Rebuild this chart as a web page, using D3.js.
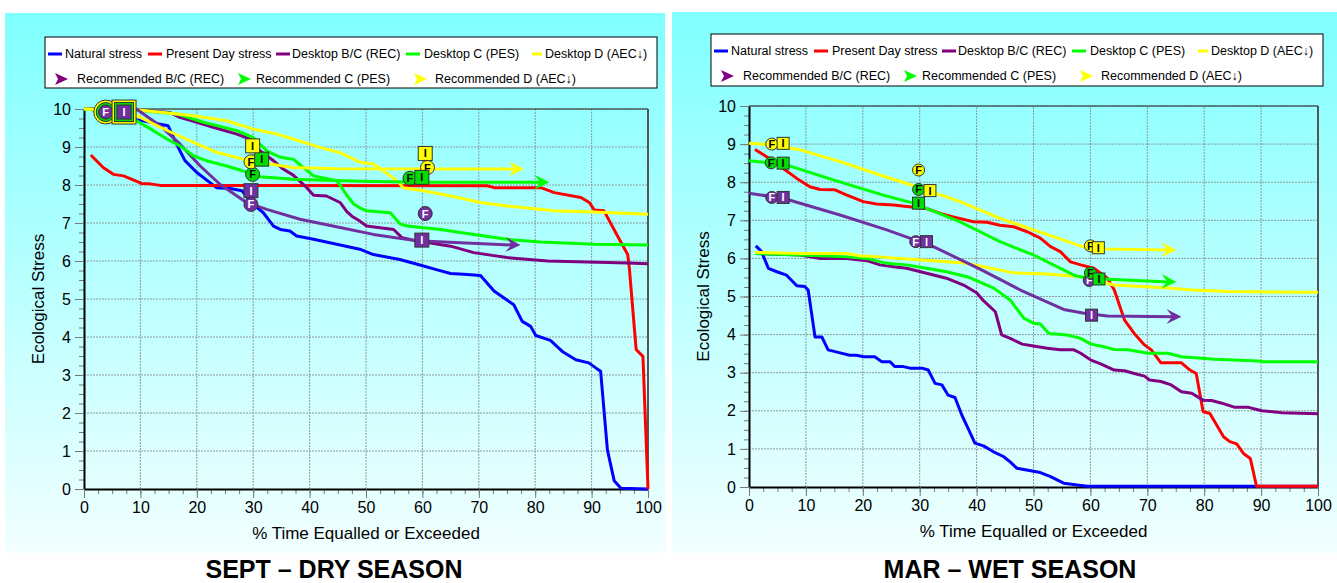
<!DOCTYPE html>
<html lang="en">
<head>
<meta charset="utf-8">
<title>Ecological stress duration curves</title>
<script src="https://d3js.org/d3.v7.min.js"></script>
<style>
  body { margin: 0; background: #fff; }
  svg { display: block; font-family: "Liberation Sans", Arial, sans-serif; }
</style>
</head>
<body>
<svg id="chart" width="1337" height="583"></svg>
<script>
// ---- labels ----
var deskNames = ["Natural stress", "Present Day stress", "Desktop B/C (REC)", "Desktop C (PES)", "Desktop D (AEC\u2193)"];
var recNames = ["Recommended B/C (REC)", "Recommended C (PES)", "Recommended D (AEC\u2193)"];
var xTicks = [0, 10, 20, 30, 40, 50, 60, 70, 80, 90, 100];
var yTicks = [0, 1, 2, 3, 4, 5, 6, 7, 8, 9, 10];
var xTitle = "% Time Equalled or Exceeded";
var yTitle = "Ecological Stress";

// ---- SEPT (dry season) ----
var sepNatural = [[1,10],[8,9.78],[9.3,9.72],[14.9,9.56],[16.7,8.99],[17.9,8.64],[20,8.33],[23.5,7.93],[25.9,7.91],[28,7.85],[30,7.49],[31.8,7.27],[33.6,6.92],[34.8,6.83],[36.5,6.79],[37.7,6.66],[40.7,6.57],[44.8,6.44],[48.9,6.31],[51.3,6.17],[56,6.04],[60.2,5.87],[62.3,5.78],[65,5.67],[67.3,5.65],[70.3,5.62],[72.7,5.21],[76.2,4.85],[77.7,4.41],[79.2,4.28],[80.1,4.04],[82.7,3.91],[84.8,3.62],[87.2,3.4],[89.5,3.32],[90.8,3.18],[91.6,3.1],[92.8,1.03],[94,0.22],[95.2,0.02],[100,0]];
var sepPresent = [[1.2,8.79],[3.4,8.46],[5.2,8.28],[7,8.24],[8.5,8.15],[10.2,8.04],[11.7,8.03],[13.5,7.99],[71.5,7.98],[72.7,7.93],[81,7.93],[83.4,7.8],[88.1,7.67],[89.6,7.54],[90.5,7.34],[92.2,7.32],[94.6,6.66],[96.4,6.17],[96.7,5.8],[97.9,3.67],[99.1,3.49],[100,0]];
var sepDeskBC = [[0,10],[9.3,9.98],[15.2,9.91],[17,9.78],[20,9.65],[22.9,9.52],[27.1,9.34],[29.4,9.21],[31.2,8.9],[33.6,8.64],[35.3,8.42],[37.1,8.26],[39.5,7.93],[40.7,7.73],[43,7.71],[45.4,7.54],[46.6,7.3],[47.5,7.18],[48.9,7.05],[50.1,6.92],[54.9,6.83],[56.4,6.61],[59,6.53],[65,6.39],[69.1,6.22],[75,6.09],[82.2,6],[96.4,5.95],[100,5.93]];
var sepDeskC = [[0,10],[9.9,9.96],[16.4,9.87],[21.2,9.65],[27.1,9.43],[30,9.25],[32.4,8.9],[34.8,8.73],[37.1,8.68],[40.7,8.24],[44.8,8.11],[45.4,8],[46.5,7.75],[47.8,7.5],[48.9,7.4],[50.1,7.32],[54.3,7.27],[56.1,6.97],[57.3,6.92],[63.2,6.83],[69.1,6.7],[75,6.57],[81,6.5],[90.5,6.44],[100,6.42]];
var sepDeskD = [[0,10],[9.3,9.98],[19.4,9.82],[25.3,9.69],[30,9.47],[34.2,9.34],[37.1,9.21],[41.8,8.99],[45.4,8.85],[48.9,8.6],[51.3,8.55],[54.3,8.24],[55.8,8.07],[56.6,7.93],[60.2,7.85],[65,7.71],[70.3,7.54],[75,7.45],[83.3,7.32],[90.5,7.29],[100,7.23]];
var sepRecBC = [[0,10],[9.3,10],[13.5,9.56],[17,9.08],[20.6,8.5],[24.1,8.02],[28.8,7.54],[32.4,7.36],[38.3,7.1],[45.4,6.88],[51.3,6.7],[59,6.53],[77.4,6.42]];
var sepRecC = [[0,10],[5,9.95],[9.3,9.69],[12.3,9.43],[14.7,9.21],[17,9.03],[19.4,8.77],[21.7,8.64],[25.3,8.5],[28.2,8.37],[31.2,8.22],[37.1,8.15],[48.9,8.1],[60,8.07],[82.5,8.07]];
var sepRecD = [[0,10],[5,9.97],[9,9.85],[13.5,9.52],[19.4,9.12],[23.5,8.86],[28.2,8.68],[33,8.55],[37,8.46],[45,8.43],[78,8.42]];
var sepMarkers = [
  {s:"D", t:"F", x:3.85, y:9.92}, {s:"C", t:"F", x:3.85, y:9.92}, {s:"BC", t:"F", x:3.85, y:9.92},
  {s:"D", t:"I", x:7.1, y:9.92}, {s:"C", t:"I", x:7.1, y:9.92}, {s:"BC", t:"I", x:7.1, y:9.92},
  {s:"BC", t:"F", x:29.6, y:7.49}, {s:"BC", t:"I", x:29.6, y:7.85},
  {s:"C", t:"F", x:29.9, y:8.28}, {s:"D", t:"F", x:29.6, y:8.61},
  {s:"C", t:"I", x:31.5, y:8.68}, {s:"D", t:"I", x:29.9, y:9.03},
  {s:"BC", t:"F", x:60.5, y:7.25}, {s:"BC", t:"I", x:59.9, y:6.55},
  {s:"C", t:"F", x:57.8, y:8.18}, {s:"D", t:"F", x:60.9, y:8.46},
  {s:"C", t:"I", x:59.9, y:8.2}, {s:"D", t:"I", x:60.5, y:8.83}
];

// ---- MAR (wet season) ----
var marNatural = [[1.2,6.33],[2.2,6.18],[3.4,5.74],[4.9,5.65],[6.6,5.56],[8.4,5.28],[9.8,5.26],[10.4,5.17],[11.6,3.94],[12.8,3.94],[13.9,3.6],[16,3.52],[17.7,3.46],[18.9,3.46],[20.1,3.42],[22.1,3.42],[23.3,3.29],[24.8,3.29],[25.6,3.16],[27.1,3.16],[28.3,3.12],[30.4,3.12],[31.5,3.07],[32.7,2.72],[33.9,2.68],[35,2.41],[36.2,2.35],[37.4,1.89],[38.5,1.54],[39.7,1.15],[41.2,1.08],[42.9,0.93],[44.7,0.8],[45.9,0.66],[47.1,0.49],[51.2,0.38],[53,0.27],[55.3,0.1],[57.7,0.05],[59.5,0.02],[100,0.02]];
var marPresent = [[1.05,8.86],[3.1,8.67],[6,8.36],[8.4,8.1],[10.7,7.88],[12.5,7.81],[15.1,7.8],[17.2,7.66],[20.1,7.49],[22.4,7.43],[25.4,7.4],[27.7,7.36],[31.2,7.31],[33.6,7.18],[35.9,7.09],[39.4,6.96],[41.8,6.95],[44.1,6.87],[46.5,6.83],[48.9,6.7],[51.2,6.53],[53,6.31],[54.7,6.18],[56.5,5.91],[58.3,5.83],[60.6,5.74],[63,5.48],[64.2,5.17],[66,4.38],[67.7,4.03],[69.5,3.73],[70.7,3.6],[72.4,3.26],[76,3.26],[77.5,3.07],[78.6,2.98],[79.8,1.98],[81,1.93],[83.4,1.32],[84.5,1.19],[85.7,1.13],[86.9,0.88],[88.1,0.75],[89.2,0.02],[100,0.02]];
var marDeskBC = [[1.05,6.13],[9,6.09],[12.5,6],[17.2,6],[20.7,5.94],[23,5.83],[25.4,5.78],[27.7,5.74],[31.2,5.61],[34.7,5.48],[37.7,5.3],[40,5.1],[41.2,4.89],[43.3,4.6],[44.4,3.99],[45.9,3.9],[48,3.75],[50,3.7],[52.4,3.64],[54.7,3.6],[57.1,3.6],[58.3,3.51],[60.1,3.33],[61.8,3.23],[64.2,3.07],[66,3.05],[67.7,2.98],[69.5,2.91],[70.4,2.81],[72.4,2.77],[74.2,2.68],[76,2.5],[77.8,2.46],[79.8,2.28],[81.3,2.27],[83.1,2.2],[85.4,2.09],[87.8,2.09],[90.1,2],[93.7,1.95],[100,1.92]];
var marDeskC = [[1.05,6.13],[9,6.09],[17.2,6.04],[20.7,6],[24.2,5.87],[27.7,5.83],[31.2,5.74],[34.7,5.65],[38.3,5.52],[40.6,5.38],[43,5.22],[45.9,4.91],[48.3,4.43],[50,4.3],[51.2,4.28],[52.7,4.03],[55.9,3.99],[58.3,3.9],[60.1,3.75],[62.4,3.68],[64.2,3.61],[66.6,3.6],[70.1,3.51],[73.6,3.51],[76,3.42],[81.9,3.35],[89.5,3.31],[90.4,3.29],[100,3.29]];
var marDeskD = [[1.05,6.16],[9,6.13],[17.2,6.13],[19.5,6.07],[23,6.04],[26.5,6],[32.4,5.94],[38.3,5.87],[40.6,5.8],[46.5,5.62],[52.4,5.59],[58.3,5.52],[64.2,5.3],[73.6,5.22],[77.8,5.17],[84.3,5.13],[100,5.11]];
var marRecBC = [[0,7.71],[6,7.58],[16,7.14],[24.2,6.75],[32.4,6.31],[40.6,5.72],[44.1,5.45],[47.7,5.17],[55.3,4.66],[58.9,4.56],[63,4.49],[76,4.47]];
var marRecC = [[0,8.56],[6,8.48],[14.8,8.06],[23.6,7.66],[28.9,7.45],[37.1,6.96],[40.6,6.7],[44.1,6.44],[50,6.09],[57.1,5.56],[59.5,5.48],[75.1,5.38]];
var marRecD = [[0,9.02],[3.1,8.99],[9,8.85],[16,8.54],[23,8.19],[29.5,7.88],[37.1,7.49],[44.1,7.05],[50,6.75],[55.3,6.48],[58.6,6.31],[61,6.25],[75.1,6.22]];
var marMarkers = [
  {s:"BC", t:"F", x:4, y:7.6}, {s:"C", t:"F", x:3.9, y:8.51}, {s:"D", t:"F", x:4, y:9.0},
  {s:"BC", t:"I", x:6, y:7.6}, {s:"C", t:"I", x:6, y:8.5}, {s:"D", t:"I", x:6, y:9.02},
  {s:"BC", t:"F", x:29.3, y:6.44}, {s:"C", t:"F", x:29.8, y:7.81}, {s:"D", t:"F", x:29.8, y:8.32},
  {s:"BC", t:"I", x:31.2, y:6.44}, {s:"C", t:"I", x:29.8, y:7.45}, {s:"D", t:"I", x:31.8, y:7.78},
  {s:"BC", t:"F", x:59.8, y:5.42}, {s:"C", t:"F", x:60, y:5.62}, {s:"D", t:"F", x:60, y:6.33},
  {s:"BC", t:"I", x:60.2, y:4.51}, {s:"C", t:"I", x:61.5, y:5.46}, {s:"D", t:"I", x:61.4, y:6.28}
];

// ---- styles ----
var deskColors = ["#0000ff", "#ff0000", "#800080", "#00ff00", "#ffff00"];
var recColors = ["#7030a0", "#00ff00", "#ffff00"];
var markerFill = { BC: "#7030a0", C: "#00dd00", D: "#ffff00" };
var markerText = { BC: "#ffffff", C: "#000000", D: "#000000" };

var svg = d3.select("#chart");

var defs = svg.append("defs");
var grad = defs.append("linearGradient").attr("id", "bg").attr("x1", 0).attr("y1", 0).attr("x2", 0).attr("y2", 1);
grad.append("stop").attr("offset", "0%").attr("stop-color", "#80ffff");
grad.append("stop").attr("offset", "100%").attr("stop-color", "#f2ffff");

function arrowHead(g, x0, y0, x1, y1, color, len) {
  var a = Math.atan2(y1 - y0, x1 - x0);
  var w = len * 0.5;
  var p = [
    [x1, y1],
    [x1 - len * Math.cos(a) + w * Math.sin(a), y1 - len * Math.sin(a) - w * Math.cos(a)],
    [x1 - len * 0.6 * Math.cos(a), y1 - len * 0.6 * Math.sin(a)],
    [x1 - len * Math.cos(a) - w * Math.sin(a), y1 - len * Math.sin(a) + w * Math.cos(a)]
  ];
  g.append("path").attr("d", "M" + p.join("L") + "Z").attr("fill", color);
}

function drawPanel(cfg) {
  var g = svg.append("g");

  g.append("rect")
    .attr("x", cfg.bg[0]).attr("y", cfg.bg[1])
    .attr("width", cfg.bg[2]).attr("height", cfg.bg[3])
    .attr("fill", "url(#bg)");

  var x = d3.scaleLinear().domain([0, 100]).range([cfg.px0, cfg.px1]);
  var y = d3.scaleLinear().domain([0, 10]).range([cfg.py0, cfg.py1]);

  // grid
  g.append("g").selectAll("line").data(xTicks.slice(1)).join("line")
    .attr("x1", function(d) { return x(d); }).attr("x2", function(d) { return x(d); })
    .attr("y1", y(0)).attr("y2", y(10))
    .attr("stroke", "#8c9c9c").attr("stroke-width", 1).attr("stroke-dasharray", "2,1");
  g.append("g").selectAll("line").data(yTicks.slice(1)).join("line")
    .attr("y1", function(d) { return y(d); }).attr("y2", function(d) { return y(d); })
    .attr("x1", x(0)).attr("x2", x(100))
    .attr("stroke", "#8c9c9c").attr("stroke-width", 1).attr("stroke-dasharray", "2,1");

  // frame
  g.append("line").attr("x1", x(0)).attr("x2", x(100)).attr("y1", y(10)).attr("y2", y(10))
    .attr("stroke", "#222").attr("stroke-width", 1);
  g.append("line").attr("x1", x(100)).attr("x2", x(100)).attr("y1", y(10)).attr("y2", y(0))
    .attr("stroke", "#555").attr("stroke-width", 2);

  // minor ticks
  var yMinor = d3.range(0, 40.5, 1).map(function(d) { return d / 4; });
  var xMinor = d3.range(0, 40.5, 1).map(function(d) { return d * 2.5; });
  g.append("g").attr("transform", "translate(" + x(0) + ",0)")
    .call(d3.axisLeft(y).tickValues(yMinor).tickSize(5).tickSizeOuter(0).tickFormat(""))
    .call(function(a) { a.select(".domain").remove(); a.selectAll("line").attr("stroke", "#777"); });
  g.append("g").attr("transform", "translate(0," + y(0) + ")")
    .call(d3.axisBottom(x).tickValues(xMinor).tickSize(5).tickSizeOuter(0).tickFormat(""))
    .call(function(a) { a.select(".domain").remove(); a.selectAll("line").attr("stroke", "#777"); });

  // major axes
  var ya = g.append("g").attr("transform", "translate(" + x(0) + ",0)")
    .call(d3.axisLeft(y).tickValues(yTicks).tickSize(9).tickSizeOuter(0).tickPadding(4));
  var xa = g.append("g").attr("transform", "translate(0," + y(0) + ")")
    .call(d3.axisBottom(x).tickValues(xTicks).tickSize(9).tickSizeOuter(0).tickPadding(4));
  [ya, xa].forEach(function(a) {
    a.select(".domain").attr("stroke", "#000").attr("stroke-width", 2);
    a.selectAll(".tick line").attr("stroke", "#777");
    a.selectAll("text").attr("font-size", 16).attr("fill", "#000")
      .attr("font-family", "Liberation Sans, Arial, sans-serif");
  });

  // series
  var line = d3.line().x(function(d) { return x(d[0]); }).y(function(d) { return y(d[1]); });
  cfg.desk.forEach(function(s, i) {
    g.append("path").datum(s).attr("d", line)
      .attr("fill", "none").attr("stroke", deskColors[i]).attr("stroke-width", 3)
      .attr("stroke-linejoin", "round");
  });
  cfg.rec.forEach(function(s, i) {
    var n = s.length;
    var x1 = x(s[n - 1][0]), y1 = y(s[n - 1][1]);
    g.append("path").datum(s.slice(0, n - 1).concat([[x.invert(x1 - 8), s[n - 1][1]]])).attr("d", line)
      .attr("fill", "none").attr("stroke", recColors[i]).attr("stroke-width", 3)
      .attr("stroke-linejoin", "round");
    arrowHead(g, x(s[n - 2][0]), y(s[n - 2][1]), x1, y1, recColors[i], 15);
  });

  // F / I markers: circles first, stacked duplicates drawn as rings
  var stacks = d3.group(cfg.markers, function(m) { return m.t + m.x + "," + m.y; });
  var list = [];
  cfg.markers.forEach(function(m, i) {
    var arr = stacks.get(m.t + m.x + "," + m.y);
    list.push({ m: m, i: i, grow: (arr.length - 1 - arr.indexOf(m)) * 2.5 });
  });
  list.sort(function(a, b) {
    if (a.m.t !== b.m.t) return a.m.t === "F" ? -1 : 1;
    return a.i - b.i;
  });
  var r = cfg.markerR;
  list.forEach(function(o) {
    var m = o.m, cx = x(m.x), cy = y(m.y), rr = r + o.grow;
    if (m.t === "F") {
      g.append("circle").attr("cx", cx).attr("cy", cy).attr("r", rr)
        .attr("fill", markerFill[m.s]).attr("stroke", "#333").attr("stroke-width", 1);
    } else {
      g.append("rect").attr("x", cx - rr).attr("y", cy - rr).attr("width", 2 * rr).attr("height", 2 * rr)
        .attr("fill", markerFill[m.s]).attr("stroke", "#333").attr("stroke-width", 1);
    }
    if (o.grow === 0) {
      g.append("text").attr("x", cx).attr("y", cy + 4).attr("text-anchor", "middle")
        .attr("font-size", 11).attr("font-weight", "bold").attr("fill", markerText[m.s])
        .text(m.t);
    }
  });

  // axis titles
  g.append("text").attr("x", (x(0) + x(100)) / 2).attr("y", cfg.py0 + 50)
    .attr("text-anchor", "middle").attr("font-size", 17).text(xTitle);
  g.append("text").attr("transform", "translate(" + cfg.yTitleX + "," + ((y(0) + y(10)) / 2) + ") rotate(-90)")
    .attr("text-anchor", "middle").attr("font-size", 17).text(yTitle);

  // season title
  g.append("text").attr("x", cfg.titleX).attr("y", 578).attr("text-anchor", "middle")
    .attr("font-size", 25).attr("font-weight", "bold").text(cfg.title);

  // legend
  var L = cfg.legend;
  var lg = g.append("g").attr("transform", "translate(" + L[0] + "," + L[1] + ")");
  lg.append("rect").attr("width", L[2]).attr("height", L[3])
    .attr("fill", "#fff").attr("stroke", "#000").attr("stroke-width", 1);
  var row1 = [[3, 20], [103, 121], [231, 247], [361, 379], [487, 500]];
  deskNames.forEach(function(name, i) {
    var lineLen = i === 4 ? 10 : 14;
    lg.append("line").attr("x1", row1[i][0]).attr("x2", row1[i][0] + lineLen)
      .attr("y1", 17).attr("y2", 17).attr("stroke", deskColors[i]).attr("stroke-width", 3);
    lg.append("text").attr("x", row1[i][1]).attr("y", 21).attr("font-size", 12.5).text(name);
  });
  var row2 = [[10, 32], [193, 211], [369, 390]];
  var recLegendColors = ["#800080", "#00ff00", "#ffff00"];
  recNames.forEach(function(name, i) {
    var ax = row2[i][0];
    lg.append("path")
      .attr("d", "M" + ax + ",36 L" + (ax + 13) + ",42 L" + ax + ",48 L" + (ax + 3) + ",42 Z")
      .attr("fill", recLegendColors[i]);
    lg.append("text").attr("x", row2[i][1]).attr("y", 46).attr("font-size", 12.5).text(name);
  });
}

drawPanel({
  px0: 84, px1: 648, py0: 489, py1: 109,
  bg: [5, 13, 660, 540], legend: [45, 37, 612, 51],
  title: "SEPT \u2013 DRY SEASON", titleX: 334, yTitleX: 44, markerR: 7,
  desk: [sepNatural, sepPresent, sepDeskBC, sepDeskC, sepDeskD],
  rec: [sepRecBC, sepRecC, sepRecD],
  markers: sepMarkers
});
drawPanel({
  px0: 749, px1: 1318, py0: 487, py1: 106,
  bg: [672, 12, 665, 541], legend: [711, 34, 612, 52],
  title: "MAR \u2013 WET SEASON", titleX: 1010, yTitleX: 709, markerR: 6,
  desk: [marNatural, marPresent, marDeskBC, marDeskC, marDeskD],
  rec: [marRecBC, marRecC, marRecD],
  markers: marMarkers
});
</script>
</body>
</html>
